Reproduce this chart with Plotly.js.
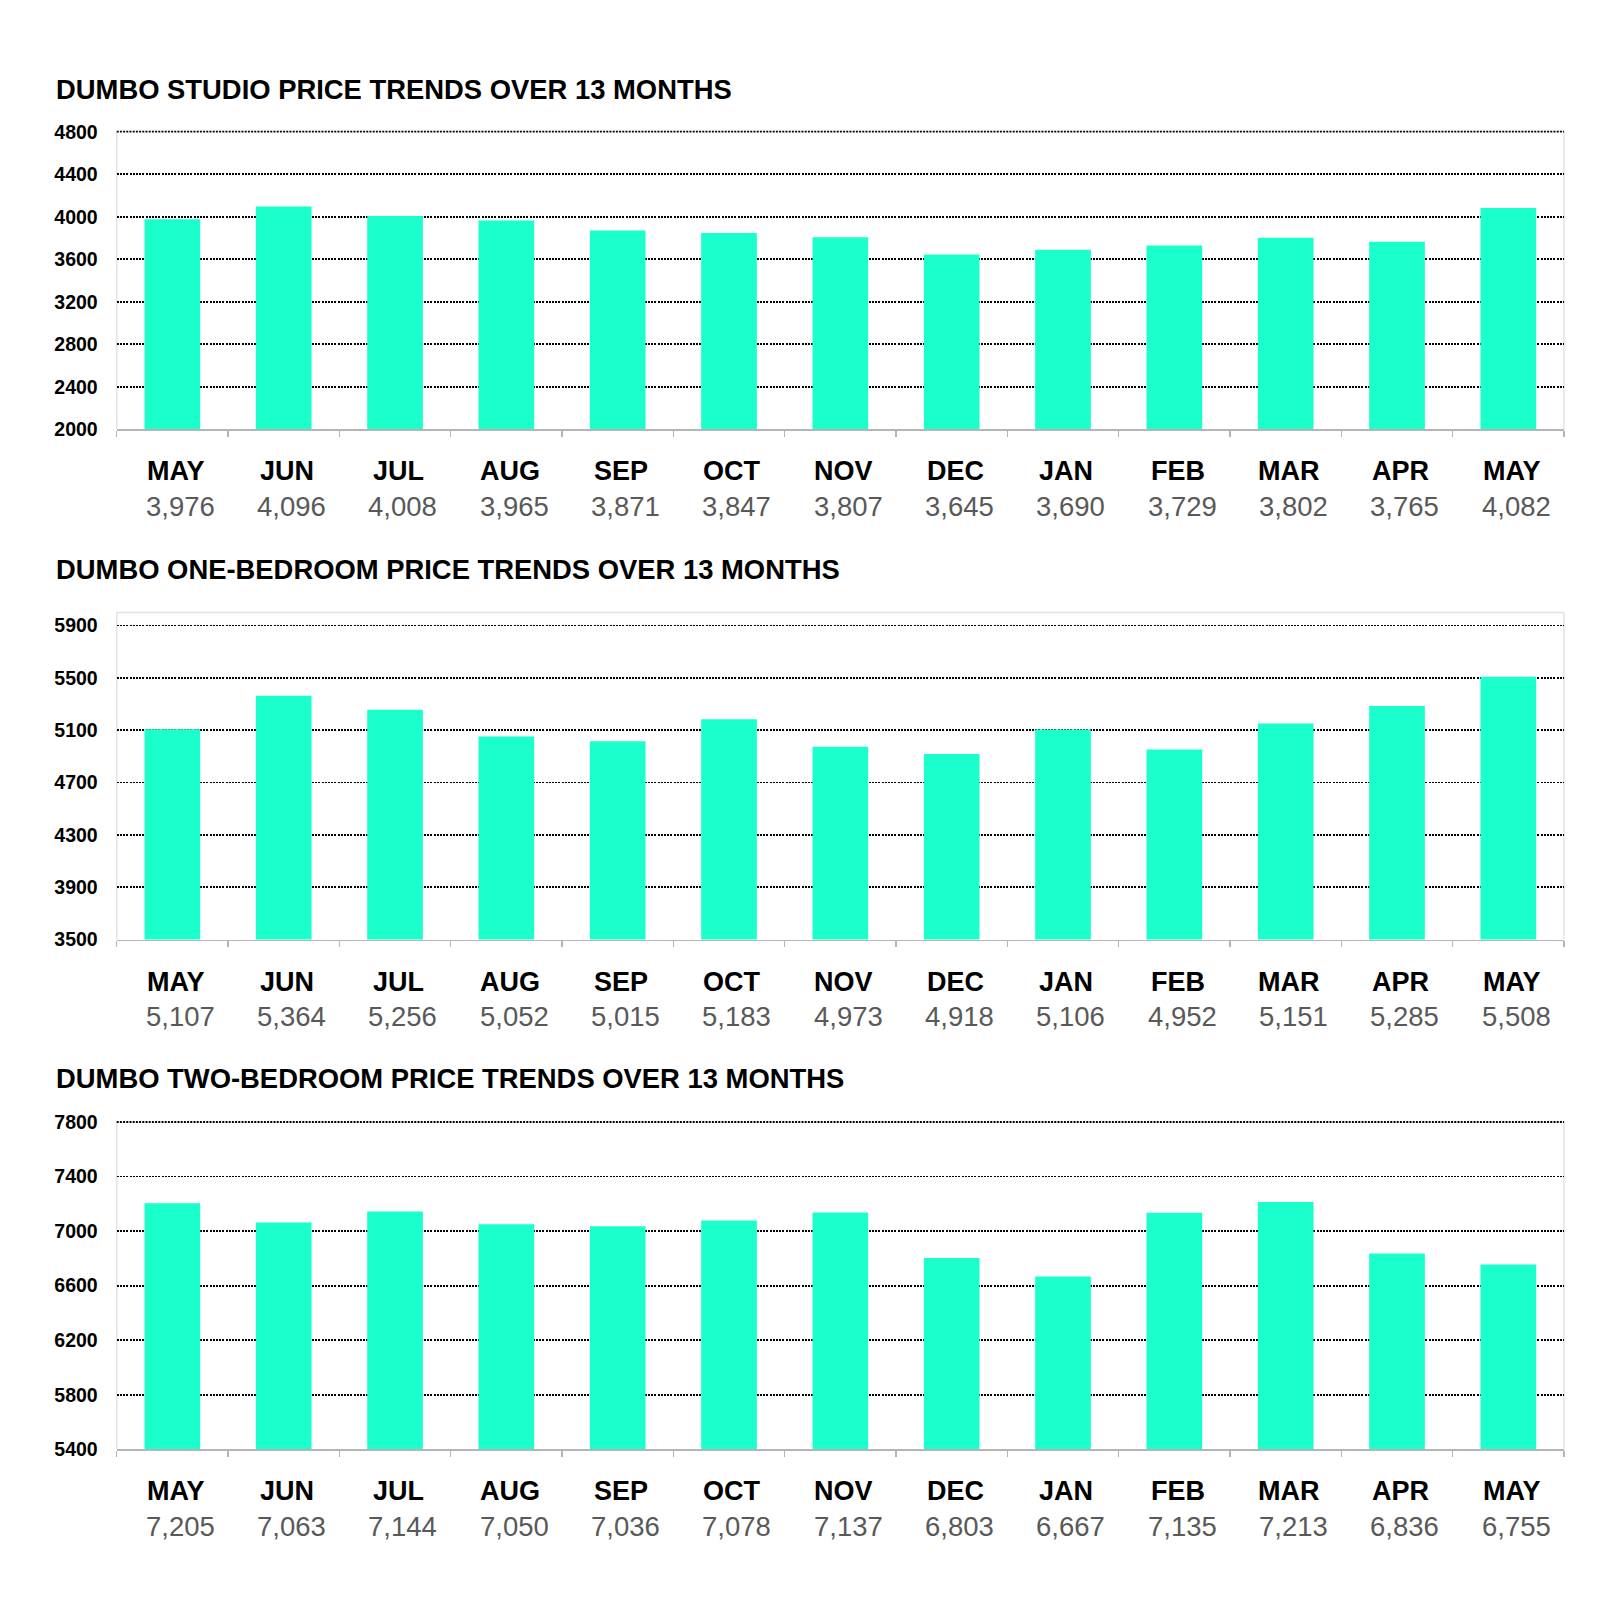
<!DOCTYPE html>
<html>
<head>
<meta charset="utf-8">
<script src="https://cdn.plot.ly/plotly-3.0.1.min.js"></script>
<style>html,body{margin:0;padding:0;background:#fff;}#chart{width:1600px;height:1615px;}</style>
</head>
<body>
<div id="chart"></div>
<script>
const months = ["MAY","JUN","JUL","AUG","SEP","OCT","NOV","DEC","JAN","FEB","MAR","APR","MAY"];
const studioPrices = [3976,4096,4008,3965,3871,3847,3807,3645,3690,3729,3802,3765,4082];
const oneBedPrices = [5107,5364,5256,5052,5015,5183,4973,4918,5106,4952,5151,5285,5508];
const twoBedPrices = [7205,7063,7144,7050,7036,7078,7137,6803,6667,7135,7213,6836,6755];
const chartTitles = [
  "DUMBO STUDIO PRICE TRENDS OVER 13 MONTHS",
  "DUMBO ONE-BEDROOM PRICE TRENDS OVER 13 MONTHS",
  "DUMBO TWO-BEDROOM PRICE TRENDS OVER 13 MONTHS"
];
const yRanges = [[2000,4800],[3500,6000],[5400,7800]];
const yTick0 = [2000,3500,5400];

const W = 1600, H = 1615;
const series = [studioPrices, oneBedPrices, twoBedPrices];
// pixel layout (top, bottom) of each plot area
const plotPx = [[131.7,429.3],[612.5,939.5],[1122,1449.3]];
const titleY = [89, 569, 1078];
const xDom = [116.7/W, 1564/W];
const BAR = '#1AFFCC';
const FONT = 'Liberation Sans, Arial, sans-serif';
const GRID_DASH = '2px,1.2px';

const idx = months.map((m,i)=>i);
const fmt = v => v.toLocaleString('en-US');

const traces = [];
const layout = {
  width: W, height: H,
  margin: {l:0,r:0,t:0,b:0},
  paper_bgcolor:'#fff', plot_bgcolor:'#fff',
  showlegend:false,
  bargap:0.5,
  annotations:[], shapes:[],
  font:{family:FONT}
};

series.forEach((vals,k)=>{
  const n = k===0 ? '' : String(k+1);
  traces.push({
    type:'bar', x: idx, y: vals,
    xaxis:'x'+n, yaxis:'y'+n,
    marker:{color:BAR, line:{width:0}},
    hoverinfo:'skip'
  });
  const [t,b] = plotPx[k];
  layout['xaxis'+n] = {
    domain: xDom, anchor:'y'+n,
    range:[-0.5,12.5],
    tickmode:'array',
    tickvals: idx.map(i=>i-0.5).concat([12.5]),
    showticklabels:false,
    ticks:'outside', ticklen:6, tickcolor:'#b5b5b5', tickwidth:1.5,
    showgrid:false, zeroline:false,
    showline:true, linecolor:'#b5b5b5', linewidth:1.5,
    fixedrange:true
  };
  layout['yaxis'+n] = {
    domain:[1-b/H, 1-t/H], anchor:'x'+n,
    range: yRanges[k],
    tickmode:'linear', tick0: yTick0[k], dtick:400,
    showgrid:true, gridcolor:'#000', gridwidth:1.8, griddash:GRID_DASH,
    zeroline:false, showline:false, ticks:'',
    ticklabelstandoff:18,
    tickfont:{family:FONT, size:19.5, color:'#000', weight:'bold'},
    fixedrange:true
  };
  // faint plot-area border (left, right; top only where no gridline sits)
  const sides = [[0,0,0,1],[1,1,0,1]];
  if (k===1) sides.push([0,1,1,1]);
  sides.forEach(s=>{
    layout.shapes.push({
      type:'line', xref:'x'+n+' domain', yref:'y'+n+' domain',
      x0:s[0], x1:s[1], y0:s[2], y1:s[3], line:{color:'#e3e3e3', width:1.5}, layer:'below'
    });
  });
  // top gridline that sits on the plot edge (Plotly drops it); drawn unclipped
  if (k!==1) {
    layout.shapes.push({
      type:'line', xref:'paper', yref:'paper',
      x0:xDom[0], x1:xDom[1], y0:1-t/H, y1:1-t/H,
      line:{color:'#000', width:1.8, dash:GRID_DASH}, layer:'below'
    });
  }
  // chart title
  layout.annotations.push({
    text:'<b>'+chartTitles[k]+'</b>', xref:'paper', yref:'paper',
    x:54/W, y:1-titleY[k]/H, xanchor:'left', yanchor:'middle', showarrow:false,
    font:{family:FONT, size:27.4, color:'#000'}
  });
  // month and value labels
  idx.forEach(i=>{
    layout.annotations.push({
      text:'<b>'+months[i]+'</b>', xref:'x'+n, yref:'y'+n+' domain',
      x:i+0.03, y:0, yshift:-42, xanchor:'center', yanchor:'middle', showarrow:false,
      font:{family:FONT, size:27, color:'#000'}
    });
    layout.annotations.push({
      text:fmt(vals[i]), xref:'x'+n, yref:'y'+n+' domain',
      x:i+0.07, y:0, yshift:-77, xanchor:'center', yanchor:'middle', showarrow:false,
      font:{family:FONT, size:27.5, color:'#595959'}
    });
  });
});

Plotly.newPlot('chart', traces, layout, {staticPlot:true, displayModeBar:false});
</script>
</body>
</html>
